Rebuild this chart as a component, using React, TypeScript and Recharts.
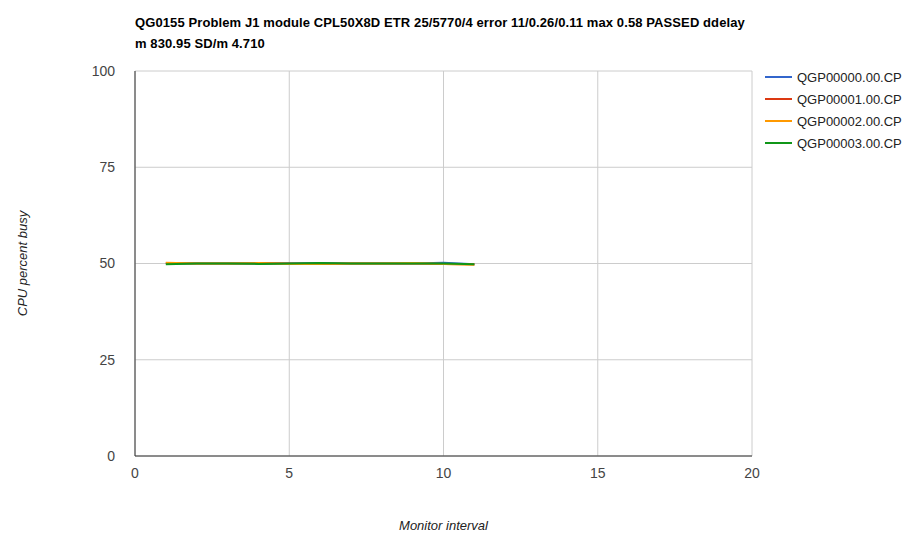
import React from "react";
import { LineChart, Line, XAxis, YAxis, CartesianGrid, Legend, Label } from "recharts";

const titleLines = [
  "QG0155 Problem J1 module CPL50X8D ETR 25/5770/4 error 11/0.26/0.11 max 0.58 PASSED ddelay",
  "m 830.95 SD/m 4.710",
];
const intervals = [1, 2, 3, 4, 5, 6, 7, 8, 9, 10, 11];
const seriesNames = ["QGP00000.00.CP", "QGP00001.00.CP", "QGP00002.00.CP", "QGP00003.00.CP"];
const seriesColors = ["#3366cc", "#dc3912", "#ff9900", "#109618"];
const s0 = [50.0, 50.0, 50.0, 49.9, 50.0, 50.1, 50.0, 50.0, 50.0, 50.2, 49.8];
const s1 = [50.1, 50.0, 50.0, 50.1, 50.0, 49.9, 50.0, 50.0, 50.0, 49.9, 49.8];
const s2 = [50.2, 50.0, 50.0, 50.1, 49.9, 49.9, 50.0, 50.0, 50.1, 49.9, 49.7];
const s3 = [49.8, 50.0, 50.0, 49.9, 50.0, 50.1, 50.0, 50.0, 50.0, 50.0, 49.8];
const xTicks = [0, 5, 10, 15, 20];
const yTicks = [0, 25, 50, 75, 100];
const xLabel = "Monitor interval";
const yLabel = "CPU percent busy";

const allSeries = [s0, s1, s2, s3];
const data = intervals.map((x, i) => {
  const row: Record<string, number> = { x };
  seriesNames.forEach((n, k) => {
    row[n] = allSeries[k][i];
  });
  return row;
});

const FONT = "'Liberation Sans', Arial, sans-serif";

const LegendContent = () => (
  <div style={{ fontFamily: FONT, fontSize: 13, color: "#222" }}>
    {seriesNames.map((n, i) => (
      <div key={n} style={{ display: "flex", alignItems: "center", height: 22 }}>
        <div style={{ width: 27, height: 2, background: seriesColors[i], marginRight: 5 }} />
        <span>{n}</span>
      </div>
    ))}
  </div>
);

export default function App() {
  return (
    <div style={{ position: "absolute", left: 0, top: 0, width: 922, height: 558, background: "#fff" }}>
      <div
        style={{
          position: "absolute",
          left: 135,
          top: 12,
          fontFamily: FONT,
          fontWeight: "bold",
          fontSize: 13,
          letterSpacing: 0.1,
          lineHeight: "21px",
          color: "#000",
          whiteSpace: "nowrap",
        }}
      >
        {titleLines.map((t) => (
          <div key={t}>{t}</div>
        ))}
      </div>
      <LineChart
        width={922}
        height={558}
        data={data}
        margin={{ top: 71, right: 20, bottom: 72, left: 75 }}
      >
        <CartesianGrid stroke="#cccccc" strokeWidth={1} />
        <XAxis
          dataKey="x"
          type="number"
          domain={[0, 20]}
          ticks={xTicks}
          height={30}
          tickLine={false}
          axisLine={{ stroke: "#333333", strokeWidth: 1 }}
          tick={{ fill: "#444444", fontSize: 14, fontFamily: FONT }}
          tickMargin={6}
        >
          <Label
            value={xLabel}
            position="insideBottom"
            offset={-44}
            style={{ fontFamily: FONT, fontStyle: "italic", fontSize: 13, fill: "#222" }}
          />
        </XAxis>
        <YAxis
          type="number"
          domain={[0, 100]}
          ticks={yTicks}
          width={60}
          tickLine={false}
          axisLine={{ stroke: "#333333", strokeWidth: 1 }}
          tick={{ fill: "#444444", fontSize: 14, fontFamily: FONT }}
          tickMargin={14}
        >
          <Label
            value={yLabel}
            angle={-90}
            position="insideLeft"
            offset={-53}
            style={{ fontFamily: FONT, fontStyle: "italic", fontSize: 13, fill: "#222", textAnchor: "middle" }}
          />
        </YAxis>
        <Legend
          layout="vertical"
          align="right"
          verticalAlign="top"
          content={<LegendContent />}
          wrapperStyle={{ left: 765, top: 66, width: 150 }}
        />
        {seriesNames.map((n, i) => (
          <Line
            key={n}
            type="linear"
            dataKey={n}
            stroke={seriesColors[i]}
            strokeWidth={2}
            dot={false}
            isAnimationActive={false}
          />
        ))}
      </LineChart>
    </div>
  );
}
